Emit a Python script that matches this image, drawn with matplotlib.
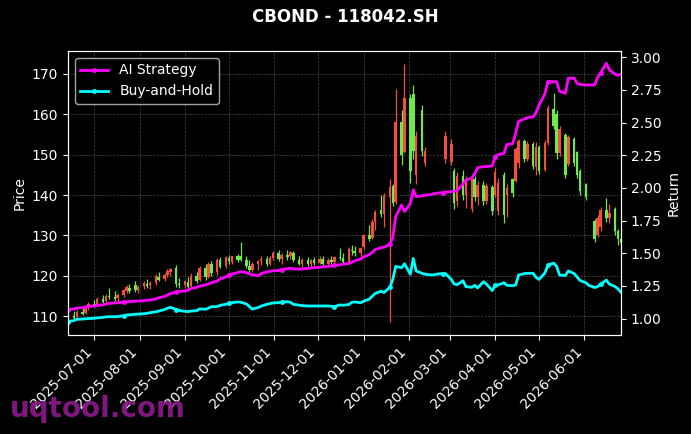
import matplotlib
matplotlib.use("Agg")
import matplotlib.pyplot as plt
import matplotlib.dates as mdates
import numpy as np
import pandas as pd

# ---- data (every second trading day) ----
dates = pd.bdate_range("2025-06-13", "2026-06-26")[::2]

opens = [109.5, 110.0, 109.8, 111.0, 110.8, 112.3, 113.0, 112.8, 114.2, 113.8,
         115.0, 114.8, 114.4, 115.2, 116.2, 117.0, 117.8, 116.4, 117.4, 118.0,
         117.6, 118.2, 119.8, 119.2, 120.2, 121.0, 122.0, 118.0, 117.6, 118.4,
         117.4, 120.0, 119.0, 122.0, 119.8, 123.0, 120.8, 123.8, 122.4, 124.4,
         123.4, 124.8, 125.0, 124.0, 122.4, 121.4, 122.8, 123.6, 124.2, 123.0,
         124.4, 125.6, 124.2, 125.2, 124.8, 125.6, 123.8, 123.0, 124.0, 122.8,
         123.8, 123.2, 124.2, 122.8, 124.0, 123.4, 124.6, 124.4, 123.4, 126.4,
         126.0, 125.6, 127.0, 130.0, 129.4, 133.2, 136.2, 135.2, 139.6, 142.2,
         138.2, 158.0, 150.6, 164.0, 165.0, 145.0, 161.0, 148.0, None, None,
         None, None, 149.0, 148.2, 146.0, 138.4, 144.6, 140.0, 136.6, 144.0,
         139.4, 142.6, 138.4, 142.0, 140.0, 136.0, 145.0, 140.0, 144.0, 143.4,
         148.0, 153.4, 149.0, 152.6, 147.0, 152.0, 146.2, 153.0, 161.4, 160.0,
         150.4, 155.0, 147.6, 154.0, 150.6, 146.0, 142.8, None, 133.6, 130.0,
         132.0, 136.4, 134.2, 136.6, 131.0, 129.0]

highs = [110.5, 111.2, 111.5, 112.0, 112.8, 113.5, 114.0, 114.6, 115.2, 115.5,
         117.0, 116.2, 115.6, 116.8, 117.6, 118.0, 118.6, 117.8, 118.6, 119.2,
         118.6, 120.4, 120.8, 120.6, 121.6, 122.0, 122.6, 119.4, 119.0, 119.6,
         120.6, 121.0, 122.4, 122.8, 123.4, 123.6, 124.4, 124.6, 125.0, 125.2,
         125.0, 125.4, 128.4, 124.8, 123.8, 123.4, 124.0, 124.8, 125.0, 124.8,
         126.0, 126.4, 125.6, 126.4, 126.2, 126.0, 124.8, 124.4, 124.6, 124.2,
         124.6, 124.8, 124.8, 124.4, 124.8, 125.0, 126.8, 125.6, 127.0, 127.6,
         127.4, 127.2, 130.4, 132.6, 134.0, 136.4, 140.0, 140.4, 144.0, 142.8,
         166.4, 161.0, 172.6, 165.0, 167.2, 155.8, 162.4, 151.8, None, None,
         None, None, 155.8, 154.0, 146.6, 145.6, 146.2, 144.6, 145.0, 144.8,
         143.4, 143.4, 143.0, 142.4, 146.6, 144.2, 145.8, 142.8, 144.2, 152.0,
         154.0, 153.8, 153.4, 153.2, 153.2, 152.4, 153.6, 162.4, 165.2, 161.0,
         157.2, 155.4, 155.0, 154.4, 150.8, 146.4, 143.0, None, 134.0, 135.0,
         137.0, 139.2, 137.8, 137.0, 131.6, 130.6]

lows = [108.8, 109.2, 109.4, 110.2, 110.5, 111.6, 112.2, 112.5, 113.2, 113.4,
        114.2, 113.8, 113.6, 114.6, 115.6, 115.8, 116.0, 115.8, 116.8, 117.0,
        116.6, 117.8, 118.6, 118.8, 119.8, 120.0, 117.2, 117.0, 117.0, 116.8,
        117.0, 118.2, 118.6, 119.0, 119.4, 120.0, 120.2, 121.8, 122.0, 122.8,
        122.8, 123.4, 123.6, 122.0, 120.8, 121.0, 121.4, 122.6, 122.4, 122.6,
        123.8, 123.6, 123.0, 124.0, 124.2, 123.4, 122.6, 122.0, 122.4, 122.2,
        122.6, 122.8, 122.4, 122.2, 123.0, 123.0, 124.0, 122.8, 123.0, 125.2,
        125.0, 125.0, 126.6, 128.6, 129.0, 131.4, 134.6, 132.0, 108.4, 137.4,
        137.8, 147.4, 150.4, 143.0, 149.0, 142.8, 149.6, 147.2, None, None,
        None, None, 148.0, 147.4, 136.6, 137.2, 138.8, 136.8, 135.8, 138.4,
        137.6, 137.6, 137.8, 135.0, 139.4, 135.0, 133.0, 134.6, 139.6, 143.2,
        146.8, 148.2, 148.4, 146.4, 145.0, 145.2, 146.0, 152.4, 156.4, 149.0,
        149.6, 144.2, 147.2, 147.2, 144.2, 140.0, 138.8, None, 128.4, 129.6,
        131.2, 133.4, 133.0, 130.0, 127.6, 127.6]

closes = [110.0, 109.6, 111.0, 110.6, 112.3, 113.0, 112.6, 114.2, 113.6, 115.0,
          114.6, 114.2, 115.2, 116.4, 117.2, 116.2, 116.4, 117.2, 118.2, 117.4,
          118.2, 120.0, 119.0, 120.2, 121.2, 121.6, 118.0, 117.6, 118.6, 117.2,
          120.0, 118.8, 122.0, 119.6, 123.0, 120.6, 124.0, 122.2, 124.6, 123.6,
          124.8, 124.0, 124.0, 122.4, 121.4, 122.8, 123.6, 124.2, 123.0, 124.4,
          125.6, 124.2, 125.2, 124.6, 125.8, 123.8, 123.0, 124.0, 122.8, 123.8,
          123.2, 124.2, 122.8, 124.0, 123.4, 124.6, 124.4, 123.4, 126.6, 126.0,
          125.6, 126.8, 130.0, 129.2, 133.4, 135.8, 135.2, 139.8, 142.0, 138.0,
          158.0, 150.0, 164.0, 146.0, 151.0, 154.6, 151.0, 150.8, None, None,
          None, None, 154.6, 152.6, 138.0, 144.8, 140.0, 143.8, 144.0, 139.4,
          142.6, 138.4, 142.2, 136.0, 145.6, 143.0, 135.0, 141.8, 140.4, 151.4,
          153.4, 149.0, 152.6, 147.2, 152.0, 146.0, 153.0, 161.6, 157.0, 150.4,
          156.4, 145.0, 154.4, 148.0, 145.0, 141.0, 139.4, None, 129.0, 134.2,
          136.4, 134.2, 135.6, 131.0, 129.0, 128.2]

ai_strategy = [1.070, 1.075, 1.080, 1.085, 1.090, 1.094, 1.097, 1.101, 1.106, 1.112,
               1.117, 1.120, 1.123, 1.126, 1.128, 1.131, 1.133, 1.135, 1.138, 1.141,
               1.143, 1.150, 1.160, 1.170, 1.180, 1.192, 1.204, 1.208, 1.212, 1.218,
               1.230, 1.240, 1.249, 1.258, 1.266, 1.275, 1.288, 1.305, 1.320, 1.333,
               1.342, 1.352, 1.360, 1.352, 1.344, 1.335, 1.328, 1.345, 1.358, 1.362,
               1.366, 1.370, 1.376, 1.383, 1.386, 1.382, 1.378, 1.380, 1.384, 1.388,
               1.391, 1.393, 1.397, 1.400, 1.404, 1.408, 1.412, 1.417, 1.423, 1.432,
               1.442, 1.456, 1.472, 1.490, 1.508, 1.528, 1.543, 1.546, 1.570, 1.620,
               1.780, 1.870, 1.820, 1.880, 1.985, 1.934, 1.940, 1.944, 1.950, 1.955,
               1.960, 1.964, 1.968, 1.972, 1.975, 1.980, 2.030, 2.060, 2.075, 2.110,
               2.155, 2.163, 2.163, 2.170, 2.238, 2.255, 2.265, 2.332, 2.340, 2.420,
               2.510, 2.528, 2.538, 2.545, 2.578, 2.635, 2.720, 2.813, 2.813, 2.813,
               2.740, 2.725, 2.840, 2.840, 2.800, 2.792, 2.788, 2.788, 2.788, 2.845,
               2.880, 2.954, 2.905, 2.870, 2.862, 2.870]

buy_hold = [0.978, 0.985, 0.995, 0.997, 0.999, 1.001, 1.003, 1.006, 1.010, 1.014,
            1.015, 1.015, 1.016, 1.022, 1.028, 1.030, 1.033, 1.035, 1.038, 1.041,
            1.046, 1.052, 1.058, 1.070, 1.080, 1.087, 1.070, 1.063, 1.056, 1.054,
            1.058, 1.061, 1.075, 1.072, 1.080, 1.092, 1.092, 1.102, 1.110, 1.117,
            1.122, 1.128, 1.126, 1.112, 1.093, 1.073, 1.085, 1.096, 1.110, 1.115,
            1.120, 1.123, 1.126, 1.130, 1.126, 1.110, 1.103, 1.100, 1.097, 1.097,
            1.097, 1.097, 1.097, 1.097, 1.095, 1.093, 1.105, 1.103, 1.108, 1.125,
            1.128, 1.122, 1.133, 1.150, 1.172, 1.193, 1.210, 1.200, 1.240, 1.300,
            1.400, 1.390, 1.420, 1.340, 1.460, 1.365, 1.347, 1.340, 1.335, 1.336,
            1.340, 1.345, 1.345, 1.300, 1.265, 1.260, 1.290, 1.245, 1.240, 1.255,
            1.235, 1.283, 1.265, 1.215, 1.255, 1.258, 1.275, 1.255, 1.252, 1.258,
            1.334, 1.345, 1.347, 1.347, 1.315, 1.300, 1.350, 1.410, 1.425, 1.400,
            1.334, 1.330, 1.365, 1.345, 1.318, 1.292, 1.275, 1.255, 1.238, 1.245,
            1.265, 1.295, 1.265, 1.245, 1.228, 1.202]

title = "CBOND - 118042.SH"

# ---- plotting ----
plt.style.use("dark_background")
fig = plt.figure(figsize=(6.91, 4.34), dpi=100)
ax = fig.add_axes([0.0984, 0.2281, 0.8003, 0.6544])

x = mdates.date2num(dates.to_pydatetime())
def arr(v):
    return np.array([np.nan if a is None else a for a in v], dtype=float)
o, h, l, c = arr(opens), arr(highs), arr(lows), arr(closes)
m = ~np.isnan(o)
up = c >= o
up_col, dn_col = "#f2503c", "#6ee84a"
cols = np.where(up, up_col, dn_col)

ax.vlines(x[m], l[m], h[m], colors=cols[m], linewidth=0.9, zorder=2)
body = np.maximum(np.abs(c - o), 0.15)
ax.bar(x[m], body[m], bottom=np.minimum(o, c)[m], width=1.7,
       color=cols[m], linewidth=0, zorder=3)

ax.set_xlim(x[0], x[-1])
ax.set_ylim(105.3, 175.7)
ax.set_ylabel("Price", fontsize=10)
ax.grid(True, linestyle="--", linewidth=0.5, color="gray", alpha=0.55)
ax.xaxis.set_major_locator(mdates.MonthLocator())
ax.xaxis.set_major_formatter(mdates.DateFormatter("%Y-%m-%d"))
for lab in ax.get_xticklabels():
    lab.set_rotation(45)
    lab.set_ha("right")
    lab.set_rotation_mode("default")

ax2 = ax.twinx()
ax2.plot(x, ai_strategy, color="magenta", linewidth=2, marker="o",
         markersize=2.5, markevery=13, label="AI Strategy")
ax2.plot(x, buy_hold, color="cyan", linewidth=2, marker="o",
         markersize=2.5, markevery=13, label="Buy-and-Hold")
ax2.set_ylim(0.875, 3.048)
ax2.set_ylabel("Return", fontsize=10)
ax2.legend(loc="upper left", fontsize=10, facecolor="black", edgecolor="#cccccc")
ax2.set_xlim(x[0], x[-1])

fig.text(0.5, 1 - 17 / 434, title, ha="center", va="center",
         fontsize=12, fontweight="bold", color="white")
fig.text(0.0145, 0.039, "uqtool.com", fontsize=20, fontweight="bold",
         color="#8f1a8f", alpha=0.9, ha="left", va="baseline")

fig.savefig("out.png", dpi=100, facecolor="black")
